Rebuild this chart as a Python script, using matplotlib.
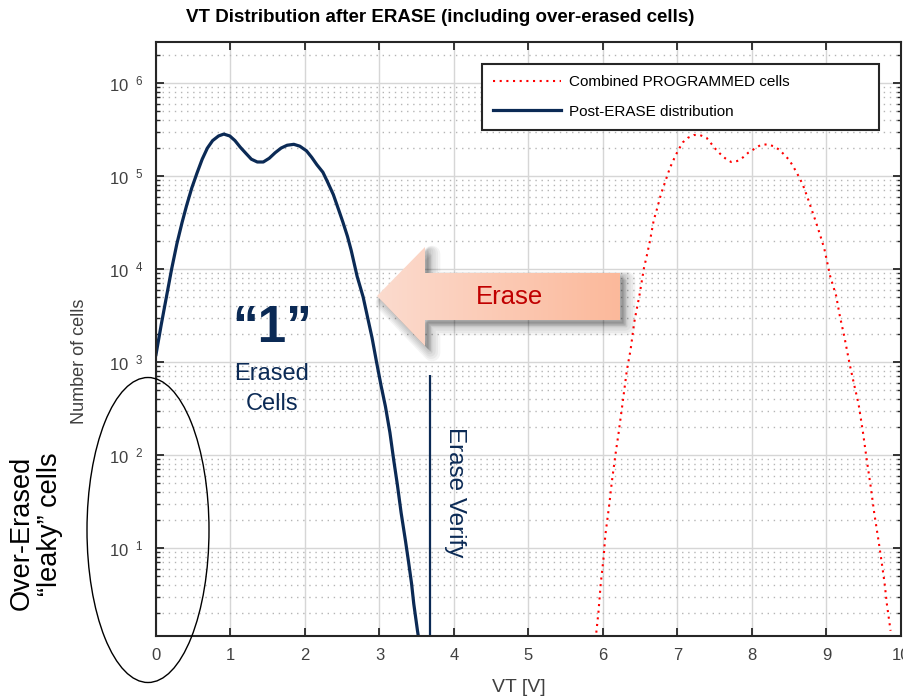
import numpy as np
import matplotlib
matplotlib.use("Agg")
import matplotlib.pyplot as plt
from matplotlib.patches import Polygon, Ellipse
from matplotlib.colors import LinearSegmentedColormap
from matplotlib.ticker import FixedLocator, LogLocator, FuncFormatter

plt.rcParams.update({
    "font.family": ["Liberation Sans", "DejaVu Sans"],
    "mathtext.fontset": "custom",
    "mathtext.rm": "Liberation Sans",
})

# ---- data ----
erase_vt = [0.00, 0.07, 0.14, 0.21, 0.28, 0.35, 0.41, 0.48, 0.55, 0.62, 0.69,
            0.76, 0.84, 0.91, 0.99, 1.06, 1.13, 1.21, 1.28, 1.36, 1.44, 1.52,
            1.60, 1.68, 1.76, 1.85, 1.93, 2.02, 2.09, 2.16, 2.24, 2.30, 2.38,
            2.45, 2.51, 2.57, 2.62, 2.66, 2.70, 2.78, 2.84, 2.90, 2.96, 3.02,
            3.08, 3.14, 3.19, 3.24, 3.29, 3.35, 3.39, 3.43, 3.46, 3.51, 3.55]
erase_log = [3.08, 3.40, 3.70, 4.00, 4.27, 4.50, 4.68, 4.87, 5.03, 5.18, 5.30,
             5.38, 5.43, 5.45, 5.43, 5.38, 5.31, 5.24, 5.18, 5.15, 5.15, 5.19,
             5.25, 5.30, 5.33, 5.34, 5.32, 5.27, 5.20, 5.12, 5.04, 4.94, 4.80,
             4.64, 4.50, 4.35, 4.20, 4.06, 3.92, 3.70, 3.48, 3.26, 3.00, 2.75,
             2.52, 2.24, 1.95, 1.68, 1.38, 1.07, 0.85, 0.62, 0.40, 0.11, -0.10]

prog_vt = [5.91, 5.94, 5.97, 6.01, 6.03, 6.08, 6.12, 6.17, 6.21, 6.26, 6.32,
           6.37, 6.42, 6.49, 6.55, 6.59, 6.63, 6.68, 6.73, 6.78, 6.84, 6.90,
           6.94, 6.98, 7.02, 7.07, 7.14, 7.22, 7.30, 7.39, 7.45, 7.51, 7.57,
           7.64, 7.72, 7.80, 7.88, 7.95, 8.03, 8.11, 8.20, 8.29, 8.37, 8.43,
           8.49, 8.54, 8.59, 8.63, 8.68, 8.74, 8.80, 8.86, 8.92, 8.97, 9.01,
           9.05, 9.13, 9.18, 9.24, 9.31, 9.37, 9.43, 9.49, 9.54, 9.59, 9.64,
           9.70, 9.74, 9.78, 9.81, 9.86]
prog_log = [0.09, 0.32, 0.62, 0.91, 1.13, 1.44, 1.72, 2.02, 2.24, 2.54, 2.91,
            3.13, 3.43, 3.72, 4.01, 4.15, 4.30, 4.52, 4.66, 4.81, 4.95, 5.09,
            5.16, 5.23, 5.29, 5.36, 5.41, 5.44, 5.44, 5.41, 5.35, 5.29, 5.24,
            5.19, 5.15, 5.16, 5.20, 5.25, 5.29, 5.33, 5.34, 5.32, 5.28, 5.23,
            5.18, 5.12, 5.05, 4.99, 4.91, 4.78, 4.64, 4.50, 4.35, 4.22, 4.07,
            3.92, 3.71, 3.49, 3.27, 2.98, 2.76, 2.55, 2.24, 1.95, 1.68, 1.38,
            1.07, 0.85, 0.62, 0.40, 0.11]

verify_vt = 3.68
verify_top = 720

erase_cells = 10.0 ** np.array(erase_log)
prog_cells = 10.0 ** np.array(prog_log)

navy = "#0b2a55"
W, H = 904, 700

fig = plt.figure(figsize=(W / 100, H / 100), dpi=100)
ax = fig.add_axes([156 / W, 1 - 636 / H, 745 / W, 594 / H])

l_prog, = ax.plot(prog_vt, prog_cells, color="red", lw=1.5,
                  ls=(0, (1, 2.2)), label="Combined PROGRAMMED cells")
l_erase, = ax.plot(erase_vt, erase_cells, color=navy, lw=2.3,
                   solid_joinstyle="round", label="Post-ERASE distribution")
ax.vlines(verify_vt, 1e-3, verify_top, color=navy, lw=1.6)

ax.set_yscale("log")
ax.set_xlim(0, 10)
ax.set_ylim(10 ** 0.054, 10 ** 6.44)
ax.xaxis.set_major_locator(FixedLocator(range(0, 11)))
ax.yaxis.set_major_locator(FixedLocator([10.0 ** k for k in range(0, 7)]))
ax.yaxis.set_minor_locator(LogLocator(base=10, subs=np.arange(2, 10)))
ax.yaxis.set_major_formatter(FuncFormatter(
    lambda v, p: r"$\mathregular{10^{\ \ %d}}$" % round(np.log10(v))))

ax.grid(which="major", color="#d6d6d6", lw=1.0, ls="-")
ax.yaxis.grid(which="minor", color="#b5b5b5", lw=1.0, ls=(0, (1, 3.4)))
ax.set_axisbelow(True)

for s in ax.spines.values():
    s.set_color("#262626")
    s.set_linewidth(1.5)
ax.tick_params(which="both", direction="in", top=True, right=True,
               color="#262626", labelcolor="#404040", labelsize=12)
ax.tick_params(which="major", length=6, width=1.3, pad=9)
ax.tick_params(which="minor", length=3, width=1.0)

leg = ax.legend(handles=[l_prog, l_erase], loc="upper left", mode="expand",
                bbox_to_anchor=(482 / W, 1 - 130 / H, 397 / W, 66 / H),
                bbox_transform=fig.transFigure, fontsize=11, fancybox=False,
                framealpha=1, edgecolor="#262626", borderpad=0.75,
                labelspacing=1.0, handlelength=4.4, handletextpad=0.55,
                borderaxespad=0)
leg.get_frame().set_linewidth(1.5)

# overlay in pixel coordinates for annotations
ov = fig.add_axes([0, 0, 1, 1], zorder=5)
ov.set_xlim(0, W)
ov.set_ylim(H, 0)
ov.axis("off")
ov.patch.set_alpha(0)

arrow = [(377, 296), (425, 247), (425, 273), (620, 273), (620, 320),
         (425, 320), (425, 346)]
for k in range(6):
    off = 3 + k * 0.8
    ov.add_patch(Polygon([(x + off, y + off) for x, y in arrow], closed=True,
                         facecolor="#000000", edgecolor="#000000",
                         lw=1 + 2.2 * k, alpha=0.045, joinstyle="round"))
arrow_patch = Polygon(arrow, closed=True, facecolor="none", edgecolor="none")
ov.add_patch(arrow_patch)
grad = LinearSegmentedColormap.from_list("g", ["#fcdbce", "#fbb99b"])
img = ov.imshow(np.linspace(0, 1, 200).reshape(1, -1), cmap=grad,
                extent=(377, 620, 346, 247), aspect="auto", zorder=2)
img.set_clip_path(arrow_patch)
ov.text(510, 297, "Erase", color="#c00000", fontsize=18.5,
        ha="center", va="center", zorder=3)

ov.text(272, 342, "\u201c1\u201d", color=navy, fontsize=37, weight="bold",
        ha="center", va="baseline")
ov.text(272, 380, "Erased", color=navy, fontsize=17, ha="center", va="baseline")
ov.text(272, 410, "Cells", color=navy, fontsize=17, ha="center", va="baseline")
ov.text(455, 492, "Erase Verify", color=navy, fontsize=17.5, rotation=-90,
        ha="center", va="center")

ov.add_patch(Ellipse((148, 530), 122, 305, facecolor="none",
                     edgecolor="black", lw=1.0))
ov.text(22, 533, "Over-Erased", fontsize=19.5, rotation=90,
        ha="center", va="center")
ov.text(50, 524, "\u201cleaky\u201d cells", fontsize=19.5, rotation=90,
        ha="center", va="center")

ov.text(80, 361, "Number of cells", fontsize=13, color="#404040", rotation=90,
        ha="center", va="center")
ov.text(519, 688, "VT [V]", fontsize=14, color="#404040",
        ha="center", va="center")
ov.text(440, 18, "VT Distribution after ERASE (including over-erased cells)",
        fontsize=13.5, weight="bold", ha="center", va="center")

fig.savefig("out.png", dpi=100)
